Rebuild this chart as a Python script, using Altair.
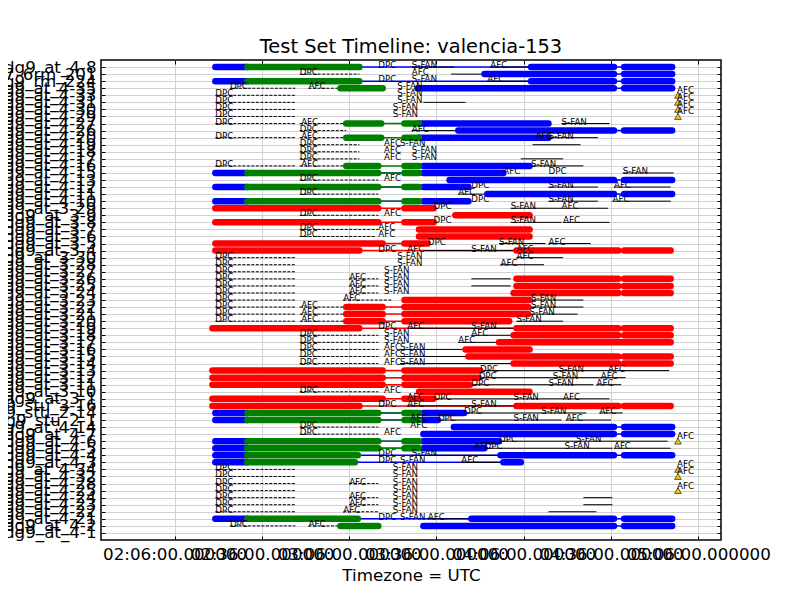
import json

import pandas as pd
import altair as alt

FONT = "DejaVu Sans"

# hosts, top to bottom
row_names = [
    "bldg9_at_4-8", "stu7_6rm_201", "bldg9_rm_224", "bldg9_at_4-35", "bldg9_at_4-33",
    "bldg9_at_4-31", "bldg9_at_4-30", "bldg9_at_4-29", "bldg9_at_4-27", "bldg9_at_4-26",
    "bldg9_at_4-20", "bldg9_at_4-19", "bldg9_at_4-18", "bldg9_at_4-17", "bldg9_at_4-16",
    "bldg9_at_4-15", "bldg9_at_4-13", "bldg9_at_4-12", "bldg9_at_4-11", "bldg9_at_4-10",
    "bldg9_at_3-29", "bldg9_at_3-9", "bldg9_at_3-8", "bldg9_at_3-7", "bldg9_at_3-6",
    "bldg9_at_3-5", "bldg9_at_3-4", "bldg9_at_3-30", "bldg9_at_3-28", "bldg9_at_3-27",
    "bldg9_at_3-26", "bldg9_at_3-25", "bldg9_at_3-24", "bldg9_at_3-23", "bldg9_at_3-22",
    "bldg9_at_3-21", "bldg9_at_3-20", "bldg9_at_3-19", "bldg9_at_3-18", "bldg9_at_3-17",
    "bldg9_at_3-16", "bldg9_at_3-15", "bldg9_at_3-14", "bldg9_at_3-13", "bldg9_at_3-12",
    "bldg9_at_3-11", "bldg9_at_3-10", "bldg9_at_3-1", "bldg9_stu_3-16", "bldg9_stu_2-14",
    "bldg9_stu_2-1", "bldg9_at_4-14", "bldg9_at_4-7", "bldg9_at_4-6", "bldg9_at_4-5",
    "bldg9_at_4-4", "bldg9_at_4-3", "bldg9_at_4-34", "bldg9_at_4-32", "bldg9_at_4-28",
    "bldg9_at_4-25", "bldg9_at_4-24", "bldg9_at_4-23", "bldg9_at_4-22", "bldg9_at_4-21",
    "bldg9_at_4-2", "bldg9_at_4-1",
]

# time axis, minutes after 02:00 UTC
x_domain = [-19.3, 193.8]
x_tick_values = [6, 36, 66, 96, 126, 156, 186]
x_tick_labels = [
    "02:06:00.000000", "02:36:00.000000", "03:06:00.000000", "03:36:00.000000",
    "04:06:00.000000", "04:36:00.000000", "05:06:00.000000",
]

# (row, start, end) in minutes after 02:00
blue_bars = [
    (0, 20, 31), (0, 128.5, 157), (0, 160.5, 177),
    (1, 112.5, 157), (1, 160.5, 177),
    (2, 20, 31), (2, 128.5, 157), (2, 160.5, 177),
    (3, 89.5, 157), (3, 160.5, 177),
    (8, 90, 134.5),
    (9, 103.5, 157), (9, 160.5, 177),
    (10, 90, 134.5),
    (14, 91.5, 128),
    (15, 20, 31), (15, 91.5, 119),
    (16, 100.5, 157), (16, 160.5, 177),
    (17, 20, 31), (17, 91.5, 107),
    (18, 113.5, 157), (18, 160.5, 177),
    (19, 20, 31), (19, 91.5, 107),
    (49, 20, 31), (49, 91.5, 105.5),
    (50, 20, 31), (50, 91.5, 96.5),
    (51, 102, 157), (51, 160.5, 177),
    (52, 91.5, 157), (52, 160.5, 177),
    (53, 20, 31), (53, 91.5, 117.5),
    (54, 20, 31), (54, 91.5, 112.5),
    (55, 20, 31), (55, 118, 157), (55, 160.5, 177),
    (56, 20, 31), (56, 119, 125),
    (64, 20, 31), (64, 108, 157), (64, 160.5, 177),
    (65, 91.5, 157), (65, 160.5, 177),
]
green_bars = [
    (0, 31, 69.5), (2, 31, 69.5), (3, 63, 77.5),
    (8, 65, 77), (8, 85, 90), (10, 65, 77), (10, 85, 90),
    (14, 65, 76), (14, 85, 90),
    (15, 31, 76), (15, 85, 90), (17, 31, 76), (17, 85, 90),
    (19, 31, 76), (19, 85, 90),
    (49, 31, 76), (49, 85, 90), (50, 31, 76), (50, 85, 90),
    (53, 31, 76), (53, 85, 90), (54, 31, 76), (54, 85, 90),
    (55, 31, 69), (56, 31, 68), (64, 31, 69), (65, 63, 76),
]
red_bars = [
    (20, 20, 76), (20, 85, 95),
    (21, 102.5, 128),
    (22, 20, 76), (22, 85, 95),
    (23, 90, 128), (24, 90, 128),
    (25, 20, 77.5), (25, 85, 93),
    (26, 20, 69.5), (26, 123.5, 158.5), (26, 160.5, 176.5),
    (30, 123.5, 158.5), (30, 160.5, 176.5),
    (31, 123.5, 158.5), (31, 160.5, 176.5),
    (32, 122.5, 158.5), (32, 160.5, 176.5),
    (33, 85, 128),
    (34, 65, 77.5), (34, 85, 127.5),
    (35, 65, 77.5), (35, 85, 127.5),
    (36, 65, 77.5), (36, 85, 121),
    (37, 19, 69.5), (37, 123.5, 158.5), (37, 160.5, 176.5),
    (38, 122.5, 158.5), (38, 160.5, 176.5),
    (39, 117.5, 176.5),
    (40, 106, 128),
    (41, 107, 158.5), (41, 160.5, 176.5),
    (42, 122.5, 158.5), (42, 160.5, 176.5),
    (43, 19, 77.5), (43, 85, 111),
    (44, 19, 77.5), (44, 85, 110.5),
    (45, 19, 77.5), (45, 85, 107.5),
    (46, 90, 128),
    (47, 19, 77.5), (47, 85, 95),
    (48, 19, 69.5), (48, 123.5, 158.5), (48, 160.5, 176.5),
]

# black guide lines (row, start, end)
dashed_lines = [
    (1, 49, 69.5), (3, 25, 47.5), (3, 52, 63),
    (4, 20, 47.5), (5, 20, 47.5), (6, 20, 47.5), (7, 20, 47.5),
    (8, 20, 47.5), (8, 49, 65), (9, 49, 65), (10, 20, 47.5), (10, 49, 65),
    (11, 49, 69.5), (12, 49, 69.5), (13, 49, 69.5),
    (14, 20, 47.5), (14, 49, 65),
    (16, 49, 76), (18, 49, 76), (21, 49, 76), (23, 49, 76), (24, 49, 75),
    (27, 20, 47.5), (28, 20, 47.5), (29, 20, 47.5), (30, 20, 47.5), (31, 20, 47.5),
    (32, 20, 47.5), (33, 20, 47.5), (34, 20, 47.5), (35, 20, 47.5), (36, 20, 47.5),
    (30, 66, 76), (31, 66, 76), (32, 66, 76), (33, 64, 81),
    (34, 49, 65), (35, 49, 65), (36, 49, 65),
    (38, 49, 76), (39, 49, 76), (40, 49, 76), (41, 49, 76), (42, 49, 76),
    (46, 49, 76), (51, 49, 76), (52, 49, 76),
    (57, 20, 47.5), (58, 20, 47.5), (59, 20, 47.5), (60, 20, 47.5),
    (61, 20, 47.5), (62, 20, 47.5), (63, 20, 47.5),
    (59, 66, 76), (61, 66, 76), (62, 66, 76), (63, 64, 76),
    (65, 25, 47.5), (65, 52, 63),
]
solid_lines = [
    (0, 114.5, 128.5), (0, 87.5, 102), (1, 101, 112.5), (2, 113.5, 128.5),
    (5, 91.5, 106), (8, 139, 155.5), (9, 87.5, 103.5), (10, 134.5, 151.5),
    (11, 129, 145.5), (13, 125, 139.5), (14, 128.5, 146.5), (15, 160, 177.5),
    (17, 134.5, 151.5), (17, 157, 176.5), (18, 103.5, 113.5),
    (19, 134.5, 151.5), (19, 156.5, 176.5),
    (20, 121.5, 139), (20, 139, 155), (22, 121.5, 139), (22, 139.5, 155.5),
    (25, 117.5, 133.5), (25, 134.5, 149), (26, 91.5, 123.5),
    (27, 123.5, 139.5), (28, 118, 133), (30, 108, 121.5), (31, 108, 121.5),
    (33, 128.5, 146.5), (34, 128.5, 146.5), (35, 128, 144.5), (36, 123.5, 139.5),
    (37, 86, 123.5), (38, 108, 122.5), (39, 103.5, 117.5),
    (40, 83.5, 106), (41, 83.5, 107), (42, 83.5, 122.5),
    (43, 111, 155), (43, 155, 176), (44, 110.5, 152.5), (44, 152.5, 161),
    (45, 108, 150), (45, 151, 159.5), (47, 95, 139.5), (47, 139.5, 155.5),
    (48, 86, 123.5), (49, 105.5, 147.5), (49, 152, 160), (50, 96.5, 139), (50, 140.5, 156),
    (53, 117.5, 175.5), (54, 112.5, 156.5), (54, 157, 176.5),
    (55, 87.5, 118), (56, 104.5, 119), (61, 146.5, 156.5), (62, 146.5, 156.5),
    (63, 134.5, 151), (64, 93, 108),
]

# event annotations (row, minute)
dpc_labels = [
    (0, 76), (1, 49), (2, 76), (3, 25), (4, 20), (5, 20), (6, 20), (7, 20),
    (8, 20), (9, 49), (10, 20), (11, 49), (12, 49), (13, 49), (14, 20),
    (15, 134.5), (16, 49), (17, 108), (18, 49), (19, 108), (20, 95), (21, 49),
    (22, 95), (23, 49), (24, 49), (25, 93), (26, 76),
    (27, 20), (28, 20), (29, 20), (30, 20), (31, 20), (32, 20), (33, 20),
    (34, 20), (35, 20), (36, 20), (37, 76), (38, 49), (39, 49), (40, 49),
    (41, 49), (42, 49), (43, 111), (44, 110.5), (45, 108), (46, 49), (47, 95),
    (48, 76), (49, 105.5), (50, 96.5), (51, 49), (52, 49), (53, 117.5),
    (54, 112.5), (55, 76), (56, 76), (57, 20), (58, 20), (59, 20), (60, 20),
    (61, 20), (62, 20), (63, 20), (64, 76), (65, 25),
]
sfan_labels = [
    (0, 87.5), (2, 87.5), (3, 82.5), (4, 82.5), (5, 82.5), (6, 81), (7, 81),
    (8, 139), (10, 134.5), (11, 83.5), (12, 87.5), (13, 87.5), (14, 128.5),
    (15, 160), (17, 134.5), (19, 134.5), (20, 121.5), (22, 121.5), (25, 117.5),
    (26, 108), (27, 82.5), (28, 82.5), (29, 78), (30, 78), (31, 78), (32, 78),
    (33, 128.5), (34, 128.5), (35, 128), (36, 123.5), (37, 108), (38, 78),
    (39, 78), (40, 83.5), (41, 83.5), (42, 83.5), (43, 138), (44, 136),
    (45, 134.5), (47, 122.5), (48, 108), (49, 132), (50, 122.5), (53, 144),
    (54, 140), (55, 87.5), (56, 83.5), (57, 81), (58, 81), (59, 81), (60, 81),
    (61, 81), (62, 81), (63, 81), (64, 83.5),
]
afc_labels = [
    (0, 114.5), (1, 87.5), (2, 113.5), (3, 52), (8, 49.5), (9, 87.5), (10, 49.5),
    (10, 130), (11, 78), (12, 78), (13, 78), (14, 49.5), (15, 119), (16, 78),
    (17, 157), (18, 103.5), (19, 156.5), (20, 139), (21, 78), (22, 139.5),
    (23, 76), (24, 76), (25, 134.5), (26, 86), (26, 123.5), (27, 123.5),
    (28, 118), (30, 66), (31, 66), (32, 66), (33, 64), (34, 49.5), (35, 49.5),
    (36, 49.5), (37, 86), (38, 108), (39, 103.5), (40, 78), (41, 78), (42, 78),
    (43, 155), (44, 152.5), (45, 151), (46, 78), (47, 86), (47, 139.5), (48, 86),
    (49, 152), (50, 87), (50, 140.5), (51, 87), (52, 78), (54, 109), (54, 157),
    (56, 104.5), (59, 66), (61, 66), (62, 66), (63, 64), (64, 93), (65, 52),
]

# late AFC markers
triangle_rows = [4, 5, 6, 7, 53, 57, 58, 60]
triangle_time = 179


def rows_frame(records, columns):
    df = pd.DataFrame(records, columns=columns)
    df["host"] = [row_names[r] for r in df["row"]]
    return df


bars = pd.concat(
    [
        rows_frame(blue_bars, ["row", "start", "end"]).assign(colour="#0000ff"),
        rows_frame(green_bars, ["row", "start", "end"]).assign(colour="#008000"),
        rows_frame(red_bars, ["row", "start", "end"]).assign(colour="#ff0000"),
    ],
    ignore_index=True,
)
# thin line joining the runs of one colour in a row
spans = bars.groupby(["host", "colour"], as_index=False).agg(start=("start", "min"), end=("end", "max"))

dashed = rows_frame(dashed_lines, ["row", "start", "end"])
solid = rows_frame(solid_lines, ["row", "start", "end"])
events = pd.concat(
    [
        rows_frame(dpc_labels, ["row", "t"]).assign(label="DPC"),
        rows_frame(sfan_labels, ["row", "t"]).assign(label="S-FAN"),
        rows_frame(afc_labels, ["row", "t"]).assign(label="AFC"),
    ],
    ignore_index=True,
)
triangles = rows_frame([(r, triangle_time) for r in triangle_rows], ["row", "t"]).assign(label="AFC")

x_scale = alt.Scale(domain=x_domain, nice=False, zero=False)
y_scale = alt.Scale(type="point", domain=row_names, padding=1.15)

label_expr = f"{json.dumps(x_tick_labels)}[indexof({json.dumps(x_tick_values)}, datum.value)]"

bottom_axis = alt.Axis(
    orient="bottom", values=x_tick_values, labelExpr=label_expr, labelOverlap=False,
    labelFont=FONT, labelFontSize=16.7, labelColor="black", labelPadding=6,
    offset=-4, tickSize=4, tickColor="black", domain=False,
    grid=True, gridColor="#d0d0d0", gridWidth=1,
    title="Timezone = UTC", titleFont=FONT, titleFontSize=16.7,
    titleFontWeight="normal", titleColor="black", titlePadding=5,
)
left_axis = alt.Axis(
    orient="left", labelFont=FONT, labelFontSize=16.7, labelColor="black",
    labelOverlap=False, labelPadding=5, offset=-4, tickSize=4, tickColor="black",
    domain=False, grid=True, gridColor="#d0d0d0", gridWidth=1, title=None,
)
top_axis = alt.Axis(
    orient="top", values=x_tick_values, labels=False, offset=-4, tickSize=4,
    tickColor="black", domain=False, grid=False, title=None,
)
right_axis = alt.Axis(
    orient="right", labels=False, offset=-4, tickSize=4, tickColor="black",
    domain=False, grid=False, title=None,
)

thin = alt.Chart(spans).mark_rule(strokeWidth=1.5).encode(
    x=alt.X("start:Q", scale=x_scale, axis=bottom_axis),
    x2="end:Q",
    y=alt.Y("host:N", scale=y_scale, axis=left_axis),
    color=alt.Color("colour:N", scale=None),
)

dashed_layer = alt.Chart(dashed).mark_rule(strokeWidth=1, color="black", strokeDash=[3, 1.5]).encode(
    x=alt.X("start:Q", scale=x_scale, axis=top_axis),
    x2="end:Q",
    y=alt.Y("host:N", scale=y_scale, axis=right_axis),
)

solid_layer = alt.Chart(solid).mark_rule(strokeWidth=1, color="black").encode(
    x=alt.X("start:Q", scale=x_scale, axis=None),
    x2="end:Q",
    y=alt.Y("host:N", scale=y_scale, axis=None),
)

thick = alt.Chart(bars).mark_rule(strokeWidth=6.5, strokeCap="round").encode(
    x=alt.X("start:Q", scale=x_scale, axis=None),
    x2="end:Q",
    y=alt.Y("host:N", scale=y_scale, axis=None),
    color=alt.Color("colour:N", scale=None),
)

event_text = alt.Chart(events).mark_text(
    align="left", baseline="alphabetic", font=FONT, fontSize=8.7, color="black", dy=1
).encode(
    x=alt.X("t:Q", scale=x_scale, axis=None),
    y=alt.Y("host:N", scale=y_scale, axis=None),
    text="label:N",
)

tri = alt.Chart(triangles).mark_point(
    shape="triangle-up", filled=True, fill="#ffc800", stroke="black", strokeWidth=0.6, size=45, opacity=1
).encode(
    x=alt.X("t:Q", scale=x_scale, axis=None),
    y=alt.Y("host:N", scale=y_scale, axis=None),
)

tri_text = alt.Chart(triangles).mark_text(
    align="left", baseline="alphabetic", font=FONT, fontSize=8.7, color="black", dx=-1, dy=-2
).encode(
    x=alt.X("t:Q", scale=x_scale, axis=None),
    y=alt.Y("host:N", scale=y_scale, axis=None),
    text="label:N",
)

chart = (
    alt.layer(thin, dashed_layer, solid_layer, thick, event_text, tri, tri_text)
    .resolve_axis(x="independent", y="independent")
    .properties(
        width=620,
        height=480,
        title=alt.TitleParams(
            "Test Set Timeline: valencia-153", font=FONT, fontSize=19.4,
            fontWeight="normal", color="black", offset=2, anchor="middle",
        ),
        autosize=alt.AutoSizeParams(type="none"),
        padding={"left": 93, "top": 52, "right": 71, "bottom": 52},
    )
    .configure(background="white")
    .configure_view(stroke="black", strokeWidth=1.5)
)

chart.save("out.html", embed_options={"renderer": "svg", "actions": False})
